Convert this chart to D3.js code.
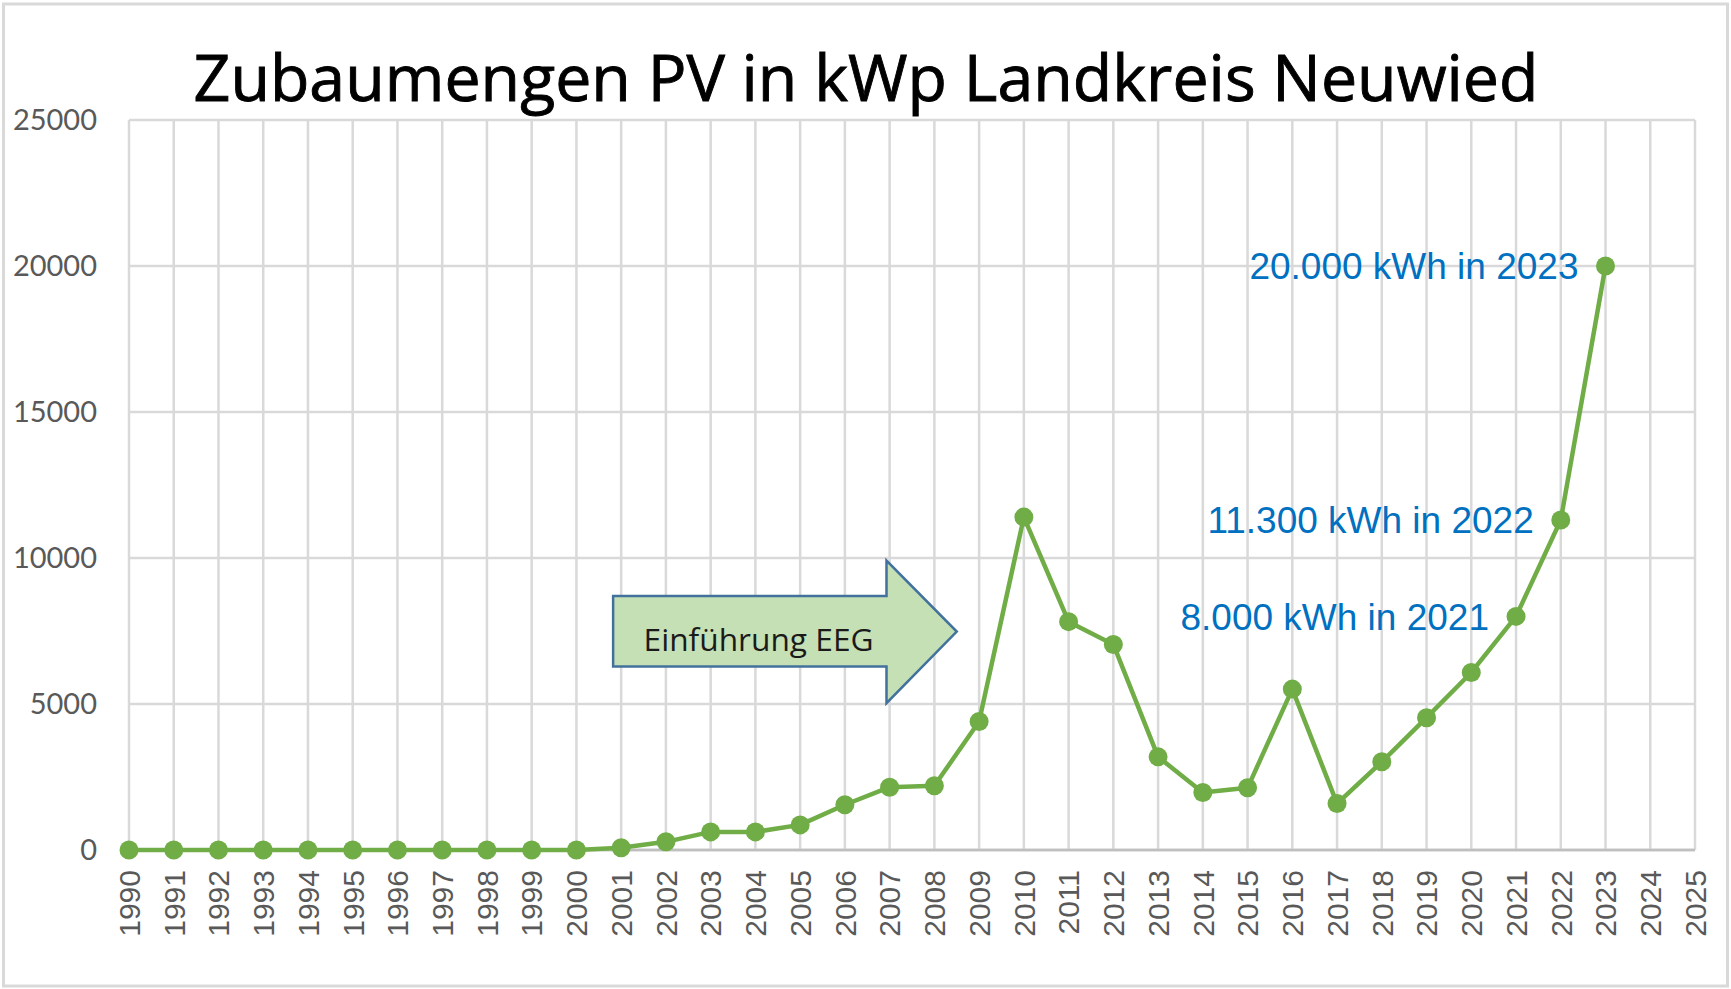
<!DOCTYPE html>
<html><head><meta charset="utf-8">
<script src="https://cdn.jsdelivr.net/npm/d3@7"></script>
<style>html,body{margin:0;padding:0;background:#fff;}svg{display:block;}</style>
</head><body>
<svg id="c" width="1731" height="989"></svg>
<script>
// ---- data ----
const categories = ["1990","1991","1992","1993","1994","1995","1996","1997","1998","1999","2000","2001","2002","2003","2004","2005","2006","2007","2008","2009","2010","2011","2012","2013","2014","2015","2016","2017","2018","2019","2020","2021","2022","2023","2024","2025"];
const seriesYears = ["1990","1991","1992","1993","1994","1995","1996","1997","1998","1999","2000","2001","2002","2003","2004","2005","2006","2007","2008","2009","2010","2011","2012","2013","2014","2015","2016","2017","2018","2019","2020","2021","2022","2023"];
const seriesValues = [0,0,0,0,0,0,0,0,0,0,0,80,280,620,620,860,1550,2150,2200,4400,11400,7820,7040,3190,1970,2130,5510,1590,3020,4530,6080,8000,11300,20000];
const yTicks = [0,5000,10000,15000,20000,25000];
const titleText = "Zubaumengen PV in kWp Landkreis Neuwied";
const annotYears = ["2021","2022","2023"];
const annotTexts = ["8.000 kWh in 2021","11.300 kWh in 2022","20.000 kWh in 2023"];
const arrowText = "Einführung EEG";
// arrow shape in data units: [yearOffset from 1990, value]
const arrowPts = [[10.82,8700],[16.93,8700],[16.93,9910],[18.5,7480],[16.93,5030],[16.93,6280],[10.82,6280]];

// ---- layout ----
const svg = d3.select("#c");
const x = d3.scalePoint().domain(categories).range([129, 1695]);
const y = d3.scaleLinear().domain([0, 25000]).range([850, 120]);
const xi = d3.scaleLinear().domain([0, categories.length - 1]).range([129, 1695]);

// outer frame
svg.append("rect").attr("x",3.5).attr("y",4).attr("width",1724).attr("height",982)
  .attr("fill","#fff").attr("stroke","#D9D9D9").attr("stroke-width",3);

// gridlines
const g = svg.append("g");
g.selectAll("line.h").data(yTicks).join("line")
  .attr("x1", x(categories[0])).attr("x2", x(categories[categories.length-1]))
  .attr("y1", d => y(d)).attr("y2", d => y(d))
  .attr("stroke", d => d === 0 ? "#BFBFBF" : "#D9D9D9").attr("stroke-width", 2.5);
g.selectAll("line.v").data(categories).join("line")
  .attr("x1", d => x(d)).attr("x2", d => x(d))
  .attr("y1", y(25000)).attr("y2", y(0))
  .attr("stroke", "#D9D9D9").attr("stroke-width", 2.5);
g.append("line").attr("x1", x(categories[0])).attr("x2", x(categories[categories.length-1]))
  .attr("y1", y(0)).attr("y2", y(0)).attr("stroke","#BFBFBF").attr("stroke-width",2.5);

// y axis labels
svg.append("g").selectAll("text").data(yTicks).join("text")
  .attr("x", 97).attr("y", d => y(d)).attr("dy","0.36em")
  .attr("text-anchor","end").attr("fill","#595959")
  .attr("font-family","Lato, 'Open Sans', sans-serif").attr("font-size",29)
  .text(d => d);

// x axis labels
svg.append("g").selectAll("text").data(categories).join("text")
  .attr("transform", d => `translate(${x(d)},870) rotate(-90)`)
  .attr("text-anchor","end").attr("dy","0.36em")
  .attr("fill","#595959").attr("font-family","'Liberation Sans', Arial, sans-serif").attr("font-size",30)
  .text(d => d);

// title
svg.append("text").attr("x", 866).attr("y", 101).attr("text-anchor","middle")
  .attr("font-family","'Open Sans', sans-serif").attr("font-size",64).attr("fill","#000")
  .attr("stroke","#000").attr("stroke-width",0.9)
  .attr("textLength",1345).attr("lengthAdjust","spacingAndGlyphs")
  .text(titleText);

// arrow annotation
const arrowLine = d3.line().x(p => xi(p[0])).y(p => y(p[1]));
svg.append("path").attr("d", arrowLine(arrowPts) + "Z")
  .attr("fill","#C5E0B4").attr("stroke","#41719C").attr("stroke-width",2.5).attr("stroke-linejoin","miter");
svg.append("text").attr("x", xi(11.5)).attr("y", y(6800))
  .attr("font-family","'Open Sans', sans-serif").attr("font-size",31).attr("fill","#1a1a1a")
  .attr("textLength",230).attr("lengthAdjust","spacingAndGlyphs")
  .text(arrowText);

// series line
const data = seriesYears.map((yr,i) => ({yr, v: seriesValues[i]}));
svg.append("path").datum(data)
  .attr("d", d3.line().x(d => x(d.yr)).y(d => y(d.v)))
  .attr("fill","none").attr("stroke","#70AD47").attr("stroke-width",4.5).attr("stroke-linejoin","round");
svg.append("g").selectAll("circle").data(data).join("circle")
  .attr("cx", d => x(d.yr)).attr("cy", d => y(d.v)).attr("r", 9.5).attr("fill","#70AD47");

// value annotations
svg.append("g").selectAll("text").data(annotYears).join("text")
  .attr("x", (d) => x(d) - 27)
  .attr("y", (d) => y(seriesValues[seriesYears.indexOf(d)]))
  .attr("dy","0.36em").attr("text-anchor","end")
  .attr("font-family","'Liberation Sans', Arial, sans-serif").attr("font-size",37).attr("fill","#0070C0")
  .text((d,i) => annotTexts[i]);
</script>
</body></html>
